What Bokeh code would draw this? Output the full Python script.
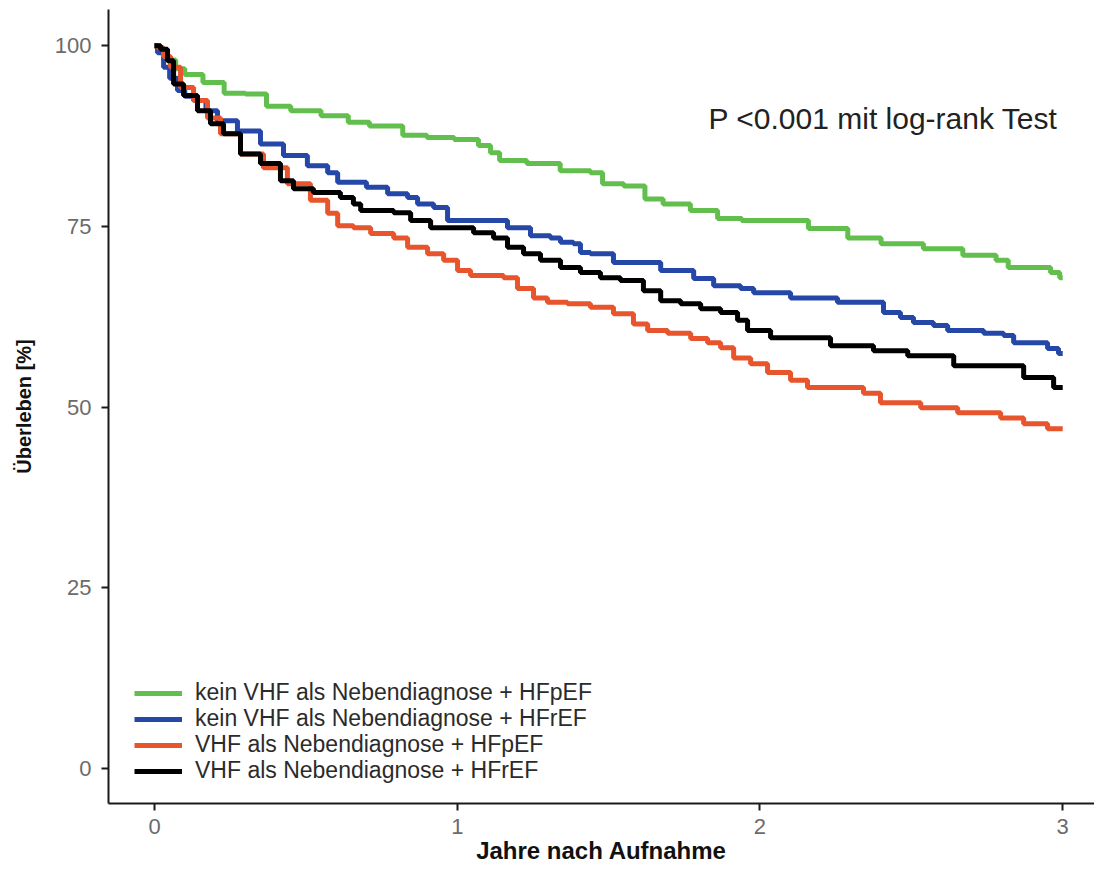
from bokeh.plotting import figure
from bokeh.models import Range1d, FixedTicker, Legend, LegendItem, Label
from bokeh.embed import file_html
from bokeh.resources import INLINE

# ---------------- data ----------------
X_TICKS = [0, 1, 2, 3]
Y_TICKS = [0, 25, 50, 75, 100]

labels = [
    "kein VHF als Nebendiagnose + HFpEF",
    "kein VHF als Nebendiagnose + HFrEF",
    "VHF als Nebendiagnose + HFpEF",
    "VHF als Nebendiagnose + HFrEF",
]
colors = ["#62bf4e", "#2447a8", "#e8552d", "#000000"]

green_t = [0, 0.02, 0.04, 0.07, 0.10, 0.16, 0.23, 0.30, 0.37, 0.45, 0.55, 0.64, 0.71,
           0.82, 0.90, 0.99, 1.07, 1.11, 1.14, 1.23, 1.34, 1.44, 1.48, 1.55, 1.62, 1.68,
           1.77, 1.86, 1.94, 2.16, 2.29, 2.40, 2.54, 2.67, 2.78, 2.82, 2.96, 2.99, 3.0]
green_s = [100, 99, 98, 96.8, 96.0, 94.9, 93.4, 93.3, 91.6, 91.0, 90.3, 89.4, 88.9,
           87.6, 87.3, 87.0, 86.2, 85.2, 84.1, 83.7, 82.7, 82.4, 80.9, 80.6, 78.8, 78.1,
           77.2, 76.1, 75.8, 74.7, 73.4, 72.6, 71.9, 71.0, 70.3, 69.3, 68.6, 67.9, 67.9]

blue_t = [0, 0.01, 0.03, 0.05, 0.076, 0.10, 0.129, 0.17, 0.208, 0.274, 0.35, 0.426, 0.505,
          0.572, 0.605, 0.70, 0.77, 0.836, 0.869, 0.922, 0.968, 1.166, 1.242, 1.308, 1.341,
          1.384, 1.407, 1.44, 1.516, 1.672, 1.781, 1.847, 1.936, 1.979, 2.101, 2.256, 2.408,
          2.464, 2.507, 2.573, 2.62, 2.739, 2.805, 2.838, 2.95, 2.986, 3.0]
blue_s = [100, 99, 97, 95.5, 93.8, 93.0, 92.4, 91.0, 89.6, 88.2, 86.4, 84.8, 83.4,
          82.4, 81.1, 80.4, 79.5, 79.0, 78.1, 77.6, 75.8, 74.8, 73.7, 73.4, 72.8,
          72.6, 71.4, 71.2, 70.0, 68.9, 67.8, 66.8, 66.4, 65.8, 65.1, 64.5, 63.1,
          62.4, 61.7, 61.3, 60.6, 60.2, 59.9, 58.9, 58.1, 57.4, 57.4]

red_t = [0, 0.01, 0.03, 0.053, 0.086, 0.129, 0.175, 0.218, 0.284, 0.36, 0.439, 0.515,
         0.572, 0.605, 0.657, 0.714, 0.79, 0.836, 0.902, 0.955, 1.001, 1.044, 1.153, 1.199,
         1.252, 1.298, 1.364, 1.44, 1.516, 1.582, 1.629, 1.695, 1.771, 1.827, 1.87, 1.913,
         1.969, 2.025, 2.101, 2.157, 2.342, 2.398, 2.531, 2.653, 2.795, 2.871, 2.95, 3.0]
red_s = [100, 99.7, 98.5, 97.0, 94.2, 92.4, 90.0, 87.8, 85.0, 83.1, 80.9, 78.6,
         76.8, 75.1, 74.8, 74.0, 73.4, 72.1, 71.2, 70.3, 68.9, 68.2, 67.9, 66.4,
         65.1, 64.5, 64.3, 63.8, 62.9, 61.5, 60.6, 60.2, 59.5, 58.9, 58.2, 56.8,
         56.0, 54.8, 53.7, 52.7, 51.9, 50.6, 49.9, 49.2, 48.5, 47.7, 47.0, 47.0]

black_t = [0, 0.02, 0.043, 0.063, 0.096, 0.142, 0.185, 0.228, 0.284, 0.35, 0.416, 0.459,
           0.525, 0.614, 0.657, 0.681, 0.79, 0.846, 0.912, 1.054, 1.12, 1.166, 1.219, 1.275,
           1.341, 1.407, 1.473, 1.539, 1.615, 1.672, 1.738, 1.804, 1.87, 1.926, 1.959, 2.035,
           2.233, 2.375, 2.488, 2.64, 2.871, 2.97, 3.0]
black_s = [100, 99.5, 97.9, 94.7, 93.1, 91.0, 89.2, 87.8, 85.0, 83.7, 81.3, 80.2,
           79.7, 79.0, 78.1, 77.2, 76.9, 75.8, 74.8, 74.1, 73.4, 72.1, 71.2, 70.3,
           69.3, 68.6, 67.9, 67.5, 66.1, 64.7, 64.3, 63.6, 63.1, 62.0, 60.6, 59.6,
           58.5, 57.8, 57.1, 55.7, 54.1, 52.7, 52.7]

series_t = [green_t, blue_t, red_t, black_t]
series_s = [green_s, blue_s, red_s, black_s]

PVAL_TEXT = "P  <0.001 mit log-rank Test"
PVAL_X = 1.83
PVAL_Y = 89.9

X_LABEL = "Jahre nach Aufnahme"
Y_LABEL = "Überleben [%]"

FONT = "Liberation Sans"

# legend layout (screen pixels from the plot frame's lower-left corner)
LEGEND_X = 26
LEGEND_ROW_Y = [97, 71, 45, 19]

# ---------------- figure ----------------
p = figure(width=1094, height=870, output_backend="svg", toolbar_location=None,
           x_range=Range1d(-0.152, 3.105), y_range=Range1d(-4.84, 105.0),
           min_border_left=108, min_border_right=0, min_border_top=9,
           min_border_bottom=67)
p.outline_line_color = None
p.xgrid.grid_line_color = None
p.ygrid.grid_line_color = None
p.background_fill_color = "white"
p.border_fill_color = "white"

p.xaxis.ticker = FixedTicker(ticks=X_TICKS)
p.yaxis.ticker = FixedTicker(ticks=Y_TICKS)
p.xaxis.axis_label = X_LABEL
p.yaxis.axis_label = Y_LABEL

for ax in (p.xaxis[0], p.yaxis[0]):
    ax.axis_line_color = "#1a1a1a"
    ax.axis_line_width = 2
    ax.major_tick_line_color = "#1a1a1a"
    ax.major_tick_line_width = 2
    ax.major_tick_in = 0
    ax.major_tick_out = 7
    ax.minor_tick_line_color = None
    ax.major_label_text_font = FONT
    ax.major_label_text_font_size = "22px"
    ax.major_label_text_color = "#6b6b6b"
    ax.axis_label_text_font = FONT
    ax.axis_label_text_font_style = "bold"
    ax.axis_label_text_color = "#111111"

p.xaxis.axis_label_text_font_size = "24px"
p.yaxis.axis_label_text_font_size = "20px"
p.xaxis.major_label_standoff = 8
p.xaxis.axis_label_standoff = 0
p.yaxis.major_label_standoff = 10
p.yaxis.axis_label_standoff = 17

renderers = []
for t, s, c in zip(series_t, series_s, colors):
    renderers.append(p.step(x=t, y=s, mode="after", line_color=c, line_width=5))

# one legend box per row so the rows sit as close together as in the original
for lab, r, ry in zip(labels, renderers, LEGEND_ROW_Y):
    lg = Legend(items=[LegendItem(label=lab, renderers=[r])],
                location=(LEGEND_X, ry), padding=0, margin=0, spacing=0,
                glyph_width=48, glyph_height=24, label_height=24, label_standoff=13,
                label_text_font=FONT, label_text_font_size="23px",
                label_text_color="#2b2b2b", border_line_color=None,
                background_fill_alpha=0)
    p.add_layout(lg)

p.add_layout(Label(x=PVAL_X, y=PVAL_Y, text=PVAL_TEXT, text_font=FONT,
                   text_font_size="30px", text_baseline="middle", text_align="left",
                   text_color="#222222"))

open("out.html", "w").write(file_html(p, INLINE))
